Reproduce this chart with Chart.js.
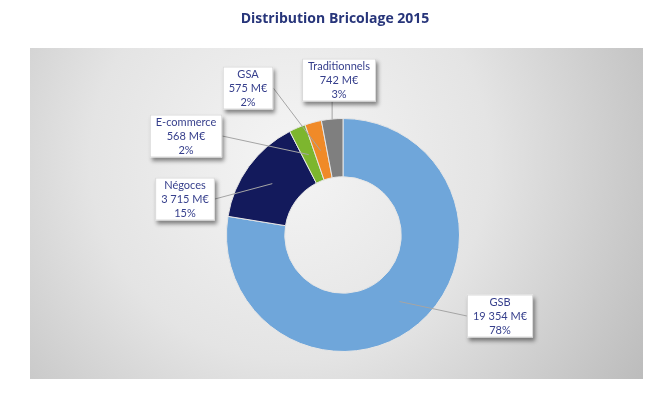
<!DOCTYPE html>
<html lang="fr">
<head>
<meta charset="utf-8">
<title>Distribution Bricolage 2015</title>
<script src="https://cdn.jsdelivr.net/npm/chart.js@4.4.1/dist/chart.umd.min.js"></script>
<style>
    body { margin: 0; background: #ffffff; }
    canvas { display: block; }
</style>
</head>
<body>
<canvas id="bricolageChart" width="671" height="393"></canvas>
<script>
// --- Données ---
const titre = 'Distribution Bricolage 2015';
const categories = ['GSB', 'Négoces', 'E-commerce', 'GSA', 'Traditionnels'];
const ventes = [19354, 3715, 568, 575, 742]; // en M€
const unite = 'M€';

// --- Styles ---
const couleurs = ['#6FA6DA', '#131A5C', '#7DB62E', '#F08A28', '#7F7F7F'];
const couleurTexte = '#363F8C';

// Position des étiquettes (centre de la boîte, côté d'attache, rayon relatif de l'ancre)
const etiquettes = [
    { cx: 500, cy: 316, cote: 'gauche', r: 0.5 },
    { cx: 185, cy: 199, cote: 'droite', r: 0.5 },
    { cx: 186, cy: 136, cote: 'droite', r: 0.5 },
    { cx: 248, cy: 88, cote: 'droite', r: 0.5 },
    { cx: 339, cy: 80, cote: 'bas', r: 1.0 }
];

function formatNombre(n) {
    return String(n).replace(/\B(?=(\d{3})+(?!\d))/g, ' ');
}

// Fond gris dégradé + titre
const fondPlugin = {
    id: 'fond',
    beforeDraw(chart) {
        const ctx = chart.ctx;
        ctx.save();
        const g = ctx.createRadialGradient(290, 160, 20, 290, 160, 420);
        g.addColorStop(0, '#F3F3F3');
        g.addColorStop(0.45, '#E4E4E4');
        g.addColorStop(1, '#BBBBBB');
        ctx.fillStyle = g;
        ctx.fillRect(30, 48, 613, 331);

        ctx.fillStyle = '#27357A';
        ctx.font = 'bold 14px "Open Sans"';
        ctx.textAlign = 'center';
        ctx.textBaseline = 'middle';
        ctx.fillText(titre, 335, 19);
        ctx.restore();
    }
};

// Étiquettes avec boîte blanche, ombre et trait de rappel
const etiquettesPlugin = {
    id: 'etiquettes',
    afterDatasetsDraw(chart) {
        const ctx = chart.ctx;
        const meta = chart.getDatasetMeta(0);
        const total = ventes.reduce((a, b) => a + b, 0);
        ctx.save();
        ctx.font = '11px Lato';
        meta.data.forEach((arc, i) => {
            const p = arc.getProps(['x', 'y', 'startAngle', 'endAngle', 'innerRadius', 'outerRadius'], true);
            const e = etiquettes[i];
            const milieu = (p.startAngle + p.endAngle) / 2;
            const rayon = p.innerRadius + (p.outerRadius - p.innerRadius) * e.r;
            const ax = p.x + Math.cos(milieu) * rayon;
            const ay = p.y + Math.sin(milieu) * rayon;

            const lignes = [
                categories[i],
                formatNombre(ventes[i]) + ' ' + unite,
                Math.round(ventes[i] / total * 100) + '%'
            ];
            const largeur = Math.max(...lignes.map(l => ctx.measureText(l).width)) + 12;
            const hauteur = 43;
            const x0 = e.cx - largeur / 2;
            const y0 = e.cy - hauteur / 2;

            let bx = e.cx, by = e.cy;
            if (e.cote === 'gauche') bx = x0;
            if (e.cote === 'droite') bx = x0 + largeur;
            if (e.cote === 'bas') { by = y0 + hauteur; bx = ax; }

            // trait
            ctx.strokeStyle = '#A5A5A5';
            ctx.lineWidth = 1;
            ctx.beginPath();
            ctx.moveTo(bx, by);
            ctx.lineTo(ax, ay);
            ctx.stroke();

            // boîte
            ctx.save();
            ctx.shadowColor = 'rgba(0, 0, 0, 0.45)';
            ctx.shadowOffsetX = 2;
            ctx.shadowOffsetY = 3;
            ctx.shadowBlur = 4;
            ctx.fillStyle = '#FFFFFF';
            ctx.fillRect(x0, y0, largeur, hauteur);
            ctx.restore();
            ctx.strokeStyle = '#D9D9D9';
            ctx.strokeRect(x0 + 0.5, y0 + 0.5, largeur - 1, hauteur - 1);

            // texte
            ctx.fillStyle = couleurTexte;
            ctx.textAlign = 'center';
            ctx.textBaseline = 'middle';
            lignes.forEach((l, k) => {
                ctx.fillText(l, e.cx, e.cy + (k - 1) * 14);
            });
        });
        ctx.restore();
    }
};

const ctx = document.getElementById('bricolageChart');
new Chart(ctx, {
    type: 'doughnut',
    data: {
        labels: categories,
        datasets: [{
            data: ventes,
            backgroundColor: couleurs,
            borderColor: '#E6E6E6',
            borderWidth: 1
        }]
    },
    options: {
        responsive: false,
        animation: false,
        cutout: '50%',
        layout: {
            padding: { top: 118, bottom: 41, left: 143, right: 128 }
        },
        plugins: {
            legend: { display: false },
            tooltip: { enabled: false },
            title: { display: false }
        }
    },
    plugins: [fondPlugin, etiquettesPlugin]
});
</script>
</body>
</html>
